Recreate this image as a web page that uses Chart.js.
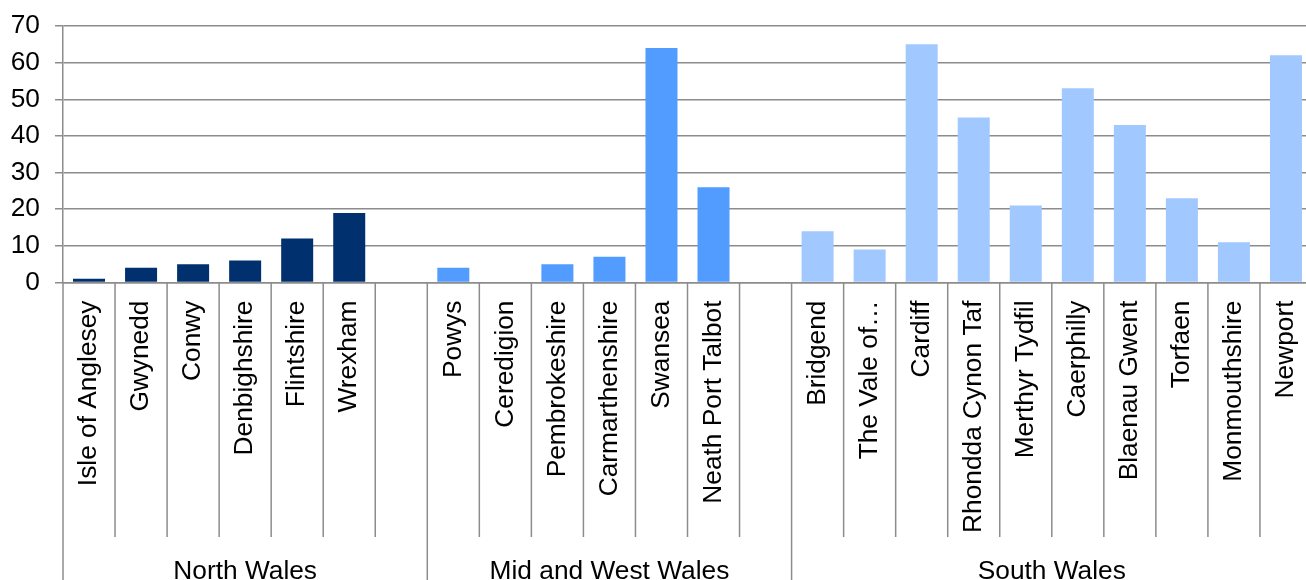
<!DOCTYPE html>
<html>
<head>
<meta charset="utf-8">
<script src="https://cdn.jsdelivr.net/npm/chart.js@4.4.1/dist/chart.umd.min.js"></script>
<style>
  html, body { margin: 0; padding: 0; background: #fff; overflow: hidden; }
  #wrap { width: 1312px; height: 580px; position: relative; }
</style>
</head>
<body>
<div id="wrap"><canvas id="c"></canvas></div>
<script>
// ---- data ----
const categories = [
  "Isle of Anglesey", "Gwynedd", "Conwy", "Denbighshire", "Flintshire", "Wrexham", "",
  "Powys", "Ceredigion", "Pembrokeshire", "Carmarthenshire", "Swansea", "Neath Port Talbot", "",
  "Bridgend", "The Vale of…", "Cardiff", "Rhondda Cynon Taf", "Merthyr Tydfil", "Caerphilly",
  "Blaenau Gwent", "Torfaen", "Monmouthshire", "Newport"
];
const northValues = [1, 4, 5, 6, 12, 19];
const midWestValues = [4, 0, 5, 7, 64, 26];
const southValues = [14, 9, 65, 45, 21, 53, 43, 23, 11, 62];
const groupNames = ["North Wales", "Mid and West Wales", "South Wales"];
const groupSizes = [7, 7, 10];
const yTicks = [0, 10, 20, 30, 40, 50, 60, 70];

const FONT = "'Liberation Sans', Arial, sans-serif";
const FS = 26.3;
const GRID = "#8c8c8c";

function slot(values, start) {
  const arr = new Array(categories.length).fill(null);
  values.forEach((v, i) => { arr[start + i] = v; });
  return arr;
}
const dsNorth = slot(northValues, 0);
const dsMid = slot(midWestValues, 7);
const dsSouth = slot(southValues, 14);

const groupPlugin = {
  id: 'groups',
  afterDraw(chart) {
    const ctx = chart.ctx;
    const x = chart.scales.x;
    const area = chart.chartArea;
    const n = categories.length;
    const step = (area.right - area.left) / n;
    ctx.save();
    ctx.strokeStyle = GRID;
    ctx.lineWidth = 1.5;
    const groupBounds = [0];
    let acc = 0;
    groupSizes.forEach(s => { acc += s; groupBounds.push(acc); });
    for (let i = 0; i <= n; i++) {
      const px = x.getPixelForValue(i) - step / 2;
      const isGroup = groupBounds.includes(i);
      ctx.beginPath();
      ctx.moveTo(px, area.bottom);
      ctx.lineTo(px, isGroup ? 580 : 537);
      ctx.stroke();
    }
    ctx.fillStyle = "#000";
    ctx.font = FS + "px " + FONT;
    ctx.textAlign = "center";
    ctx.textBaseline = "alphabetic";
    for (let g = 0; g < groupNames.length; g++) {
      const a = x.getPixelForValue(groupBounds[g]) - step / 2;
      const b = x.getPixelForValue(groupBounds[g + 1]) - step / 2;
      ctx.fillText(groupNames[g], (a + b) / 2, 578.5);
    }
    ctx.restore();
  }
};

new Chart(document.getElementById('c'), {
  type: 'bar',
  data: {
    labels: categories,
    datasets: [
      { label: groupNames[0], data: dsNorth, backgroundColor: "#00306E" },
      { label: groupNames[1], data: dsMid, backgroundColor: "#529BFF" },
      { label: groupNames[2], data: dsSouth, backgroundColor: "#A2C9FF" }
    ]
  },
  options: {
    responsive: true,
    maintainAspectRatio: false,
    animation: false,
    layout: { padding: { top: 26, right: 0, left: 0, bottom: 0 } },
    datasets: { bar: { grouped: false, categoryPercentage: 1, barPercentage: 0.615 } },
    plugins: { legend: { display: false }, tooltip: { enabled: false } },
    scales: {
      x: {
        type: 'category',
        offset: true,
        grid: { display: false, drawTicks: false },
        border: { display: true, color: GRID, width: 1.5 },
        ticks: {
          autoSkip: false,
          minRotation: 90,
          maxRotation: 90,
          padding: 18,
          color: "#000",
          font: { family: FONT, size: FS }
        },
        afterFit(scale) {
          scale.height = 297.5;
          scale.paddingLeft = 0; scale.paddingRight = 0;
          scale.paddingTop = 0; scale.paddingBottom = 0;
        }
      },
      y: {
        min: 0,
        max: 70,
        afterBuildTicks(scale) { scale.ticks = yTicks.map(v => ({ value: v })); },
        grid: { color: GRID, lineWidth: 1.5, tickLength: 8, drawTicks: true },
        border: { display: true, color: GRID, width: 1.5 },
        ticks: {
          padding: 15,
          color: "#000",
          font: { family: FONT, size: FS }
        },
        afterFit(scale) {
          scale.width = 63;
          scale.paddingTop = 0; scale.paddingBottom = 0;
          scale.paddingLeft = 0; scale.paddingRight = 0;
        }
      }
    }
  },
  plugins: [groupPlugin]
});
</script>
</body>
</html>
